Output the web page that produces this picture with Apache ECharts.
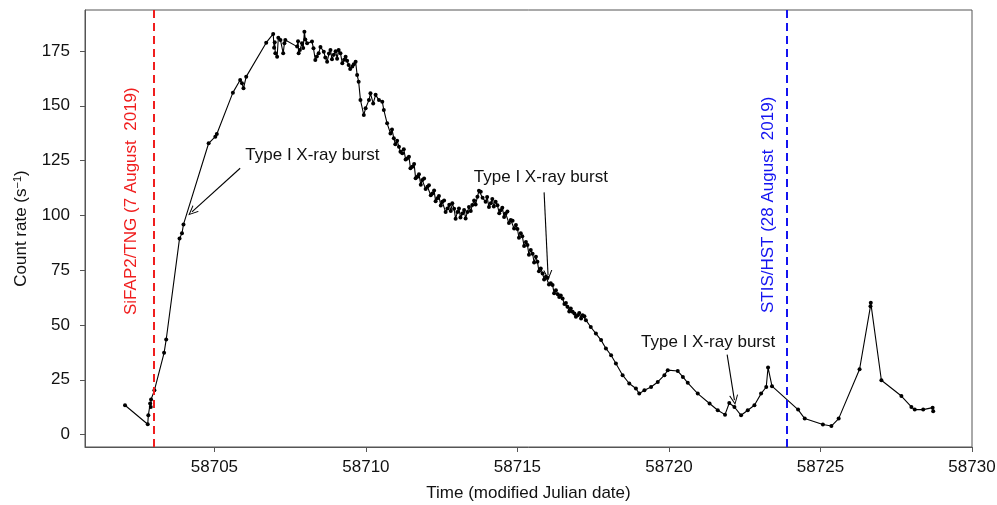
<!DOCTYPE html>
<html>
<head>
<meta charset="utf-8">
<script src="https://cdn.jsdelivr.net/npm/echarts@6/dist/echarts.min.js"></script>
<style>
html,body{margin:0;padding:0;background:#fff;}
#chart{width:997px;height:505px;}
</style>
</head>
<body>
<div id="chart"></div>
<script>
// ---- data ----
const mjdBase = 58700;
const mjdOffset = [
2.05,2.80,2.82,2.88,2.90,2.91,3.02,3.34,3.41,3.85,3.93,3.98,4.81,5.03,5.08,5.61,5.85,5.91,5.96,6.05,
6.71,6.94,6.97,6.99,7.01,7.07,7.11,7.18,7.27,7.31,7.34,7.73,7.76,7.78,7.82,7.89,7.93,7.97,8.00,8.06,
8.22,8.27,8.33,8.38,8.44,8.50,8.61,8.66,8.72,8.78,8.83,8.88,8.94,9.00,9.05,9.10,9.16,9.22,9.28,9.33,
9.38,9.43,9.48,9.55,9.60,9.66,9.71,9.76,9.82,9.93,9.99,10.10,10.15,10.24,10.32,10.43,10.54,10.59,10.70,10.81,
10.86,10.92,10.97,11.03,11.09,11.14,11.20,11.25,11.31,11.36,11.42,11.47,11.53,11.59,11.64,11.70,11.75,11.81,11.86,11.92,
11.97,12.03,12.08,12.14,12.19,12.25,12.30,12.36,12.41,12.47,12.52,12.58,12.63,12.69,12.75,12.80,12.85,12.91,12.96,13.02,
13.07,13.12,13.18,13.24,13.29,13.35,13.40,13.46,13.51,13.57,13.62,13.68,13.73,13.79,13.85,13.95,14.00,14.06,14.12,14.17,
14.22,14.28,14.34,14.40,14.45,14.50,14.56,14.61,14.67,14.72,14.78,14.84,14.89,14.95,15.00,15.05,15.11,15.16,15.22,15.28,
15.33,15.38,15.44,15.50,15.55,15.61,15.66,15.71,15.77,15.83,15.88,15.94,15.99,16.04,16.10,16.16,16.21,16.27,16.33,16.38,
16.43,16.49,16.55,16.60,16.65,16.71,16.76,16.82,16.88,16.93,16.99,17.04,17.10,17.15,17.21,17.26,17.42,17.59,17.76,17.92,
18.09,18.25,18.47,18.69,18.91,19.02,19.19,19.41,19.63,19.85,19.96,20.29,20.46,20.62,20.95,21.34,21.61,21.85,21.99,22.16,
22.38,22.60,22.82,23.04,23.21,23.27,23.40,24.26,24.48,25.08,25.36,25.60,26.29,26.65,26.66,27.01,27.67,28.00,28.11,28.39,
28.70,28.72
];
const countRate = [
13.4,4.7,8.8,14.2,12.6,16.0,20.2,37.3,43.4,89.5,91.8,95.9,132.9,135.9,137.1,156.0,161.8,160.3,158.0,163.3,
178.8,182.8,176.5,179.0,174.0,172.4,181.0,180.0,174.0,178.5,180.0,177.0,179.5,174.0,175.5,178.5,176.4,183.8,180.2,178.5,
179.3,176.2,170.9,172.5,174.0,176.8,174.7,172.0,170.1,173.8,175.5,171.2,173.3,174.9,171.5,175.5,174.0,169.4,171.0,172.4,
170.5,168.6,166.8,167.9,169.0,170.1,164.1,161.0,152.6,145.8,148.9,152.6,155.7,151.1,155.0,152.6,151.9,148.1,142.0,137.4,
139.2,135.2,132.5,134.0,131.3,129.0,128.3,130.2,125.5,126.0,126.8,121.5,122.2,123.5,117.0,117.6,118.8,114.0,116.1,116.8,
112.0,113.1,113.8,109.2,110.0,111.3,106.5,107.8,108.8,104.5,106.2,106.8,101.5,103.2,104.8,102.0,105.5,103.0,98.5,101.6,
103.2,99.0,100.9,102.5,98.6,101.6,103.8,102.0,104.7,106.8,105.0,108.5,111.2,110.8,108.0,106.2,108.4,103.8,105.5,107.5,
104.0,106.2,104.6,101.0,102.4,103.5,99.3,100.9,101.8,96.5,97.9,97.5,94.0,95.6,93.8,89.8,91.8,90.5,86.0,87.9,
86.5,82.0,84.2,82.5,78.5,81.1,78.8,74.5,75.8,73.5,70.8,72.0,71.5,68.5,69.0,68.2,64.5,65.9,64.0,62.8,
63.5,62.1,59.6,60.0,58.3,56.2,57.5,56.0,55.2,53.8,54.5,55.5,53.0,54.5,54.0,52.2,49.1,46.1,43.1,39.3,
36.2,32.4,27.1,23.3,21.0,18.7,20.2,21.7,24.0,27.1,29.4,29.0,26.3,23.6,18.7,14.2,11.1,9.1,14.4,12.6,
8.8,11.1,13.4,18.7,21.7,30.6,22.1,11.4,7.3,4.6,3.9,7.3,29.8,58.6,60.1,24.8,17.6,12.6,11.4,11.4,
12.3,10.6
];
const xTicks = [58705, 58710, 58715, 58720, 58725, 58730];
const yTicks = [0, 25, 50, 75, 100, 125, 150, 175];
const obsDates = [58703.0, 58723.9];
const obsLabels = ['SiFAP2/TNG (7 August  2019)', 'STIS/HST (28 August  2019)'];
const obsLabelPos = [[58702.25, 106.5], [58723.28, 104.8]];
const burstText = 'Type I X-ray burst';
const burstLabelPos = [[58706.02, 127.5], [58713.56, 117.5], [58719.08, 42.2]];
const burstArrowFrom = [[58705.85, 121.5], [58715.88, 110.5], [58721.92, 36.5]];
const burstArrowTo = [[58704.26, 101.6], [58716.01, 72.7], [58722.16, 15.7]];

// ---- chart ----
const FONT = '"Liberation Sans", Arial, Helvetica, sans-serif';
const points = mjdOffset.map((d, i) => [mjdBase + d, countRate[i]]);
const obsColors = ['#f01e1e', '#1414f0'];
const openArrow = 'path://M5,0 L10,10 L8.8,10 L5,2.4 L1.2,10 L0,10 Z';

const chart = echarts.init(document.getElementById('chart'), null, {renderer: 'canvas'});
chart.setOption({
  animation: false,
  backgroundColor: '#fff',
  grid: {left: 85, right: 25, top: 10, bottom: 58, containLabel: false, outerBoundsMode: 'none',
    show: true, borderColor: '#555', borderWidth: 1, backgroundColor: 'transparent'},
  xAxis: {
    type: 'value', min: 58700.73, max: 58730,
    axisLine: {show: true, onZero: false, lineStyle: {color: '#555', width: 1}},
    axisTick: {show: true, length: 5, customValues: xTicks, lineStyle: {color: '#555'}},
    axisLabel: {customValues: xTicks, color: '#111', fontSize: 17, fontFamily: FONT, margin: 12, formatter: v => String(v)},
    splitLine: {show: false},
    name: 'Time (modified Julian date)', nameLocation: 'middle', nameGap: 38,
    nameTextStyle: {color: '#111', fontSize: 17, fontFamily: FONT}
  },
  yAxis: {
    type: 'value', min: -5.66, max: 193.7,
    axisLine: {show: true, onZero: false, lineStyle: {color: '#555', width: 1}},
    axisTick: {show: true, length: 5, customValues: yTicks, lineStyle: {color: '#555'}},
    axisLabel: {customValues: yTicks, color: '#111', fontSize: 17, fontFamily: FONT, margin: 15, formatter: v => String(v)},
    splitLine: {show: false},
    name: 'Count rate (s{sup|−1})', nameLocation: 'middle', nameGap: 54, nameRotate: 90,
    nameTextStyle: {color: '#111', fontSize: 17, fontFamily: FONT,
      rich: {sup: {fontSize: 11, fontFamily: FONT, color: '#111', verticalAlign: 'top', padding: [0, 0, 8, 0]}}}
  },
  series: [
    {
      type: 'line', data: points, showAllSymbol: true, symbol: 'circle', symbolSize: 4,
      lineStyle: {color: '#000', width: 1.1}, itemStyle: {color: '#000'}, z: 3,
      markLine: {
        silent: true, symbol: 'none', animation: false,
        label: {show: false},
        data: obsDates.map((v, i) => ({xAxis: v, lineStyle: {color: obsColors[i], type: [8, 5], width: 2}}))
      }
    },
    {
      type: 'line', data: [], z: 4,
      markLine: {
        silent: true, symbol: ['none', openArrow], symbolSize: [9, 10], animation: false,
        label: {show: false},
        lineStyle: {color: '#000', width: 1.1, type: 'solid'},
        data: burstArrowFrom.map((f, i) => [{coord: f}, {coord: burstArrowTo[i]}])
      },
      markPoint: {
        silent: true, animation: false, symbol: 'circle', symbolSize: 0,
        data: burstLabelPos.map(p => ({coord: p, value: 0,
          label: {show: true, position: 'right', distance: 0, formatter: burstText, color: '#111', fontSize: 17, fontFamily: FONT}}))
          .concat(obsLabelPos.map((p, i) => ({coord: p, value: 0,
            label: {show: true, position: 'inside', rotate: 90, formatter: obsLabels[i], color: obsColors[i], fontSize: 17, fontFamily: FONT}})))
      }
    }
  ]
});
</script>
</body>
</html>
